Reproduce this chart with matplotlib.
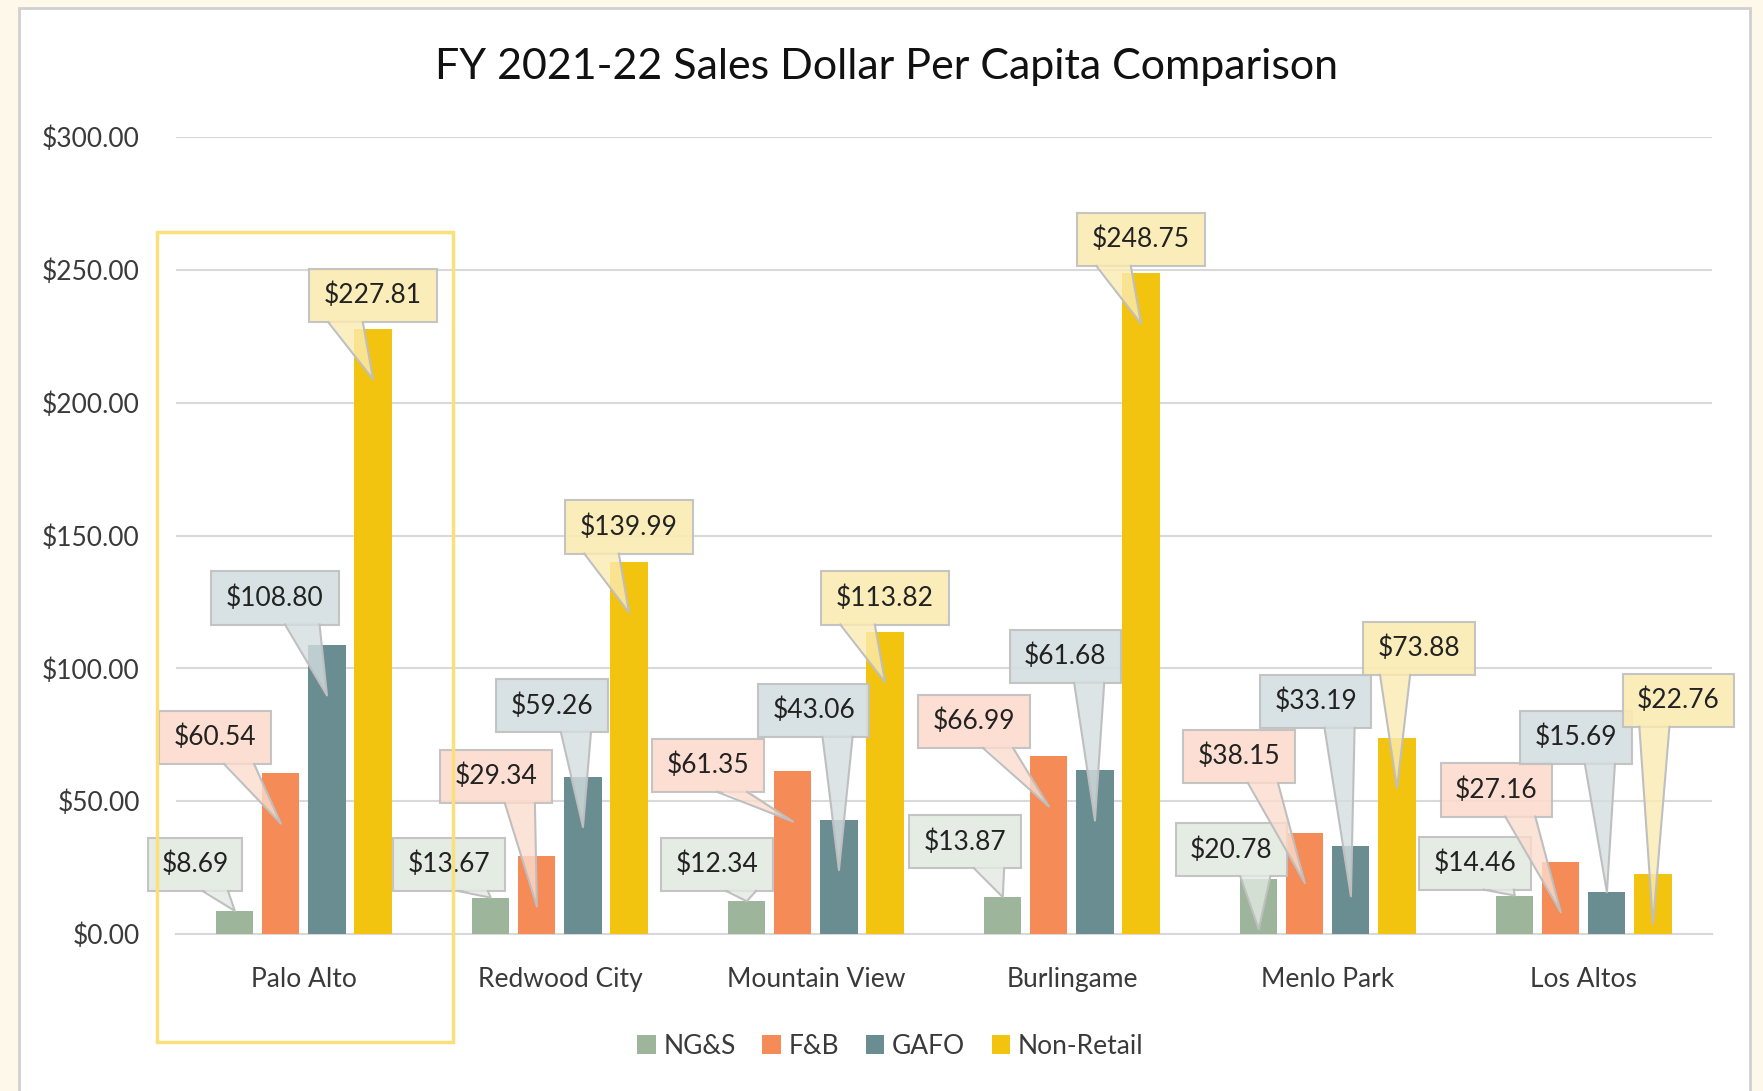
import numpy as np
import matplotlib.pyplot as plt
from matplotlib.patches import Rectangle, Polygon

plt.rcParams['font.family'] = ['Lato', 'DejaVu Sans']

cities = ['Palo Alto', 'Redwood City', 'Mountain View', 'Burlingame', 'Menlo Park', 'Los Altos']
series = ['NG&S', 'F&B', 'GAFO', 'Non-Retail']

ngs = [8.69, 13.67, 12.34, 13.87, 20.78, 14.46]
fb = [60.54, 29.34, 61.35, 66.99, 38.15, 27.16]
gafo = [108.80, 59.26, 43.06, 61.68, 33.19, 15.69]
non_retail = [227.81, 139.99, 113.82, 248.75, 73.88, 22.76]
values = [ngs, fb, gafo, non_retail]

yticks = [0, 50, 100, 150, 200, 250, 300]

bar_colors = ['#9DB59B', '#F58B57', '#6A8D92', '#F2C40F']
box_colors = ['#E3EAE2', '#FCDCCD', '#D4DEE0', '#FBEBB2']

# callout placement: x offset from bar (category units), box centre height (data units)
label_dx = [[-0.156, -0.164, -0.116, -0.147, -0.107, -0.156],
            [-0.257, -0.160, -0.331, -0.292, -0.257, -0.252],
            [-0.204, -0.121, -0.099, -0.116, -0.138, -0.121],
            [0.0, 0.0, 0.0, 0.0, 0.086, 0.099]]
label_y = [[26.2, 26.2, 26.2, 34.7, 31.7, 26.7],
           [74.0, 59.2, 63.5, 80.0, 66.8, 54.2],
           [126.5, 85.9, 84.2, 104.5, 87.6, 74.0],
           [240.3, 153.2, 126.5, 261.5, 107.5, 88.0]]

fig = plt.figure(figsize=(17.63, 10.91), dpi=100)
fig.patch.set_facecolor('#FDF8EA')
panel = Rectangle((0.0108, -0.01), 0.982, 1.003, transform=fig.transFigure,
                  facecolor='white', edgecolor='#D0D0D0', lw=2, zorder=-5)
fig.patches.append(panel)

ax = fig.add_axes([0.0998, 0.1439, 0.8712, 0.7305])
ax.patch.set_alpha(0)

x = np.arange(len(cities))
offsets = [-0.27, -0.09, 0.09, 0.27]
bw = 0.145
for k in range(4):
    ax.bar(x + offsets[k], values[k], bw, color=bar_colors[k], label=series[k], zorder=3)

ax.set_ylim(0, 300)
ax.set_xlim(-0.5, 5.5)
ax.set_yticks(yticks)
ax.set_yticklabels(['$%.2f' % v for v in yticks])
ax.set_xticks(x)
ax.set_xticklabels(cities)
ax.tick_params(axis='y', length=0, pad=26, labelsize=19, labelcolor='#3A3A3A')
ax.tick_params(axis='x', length=0, pad=24, labelsize=19, labelcolor='#3A3A3A')
ax.grid(axis='y', color='#D9D9D9', lw=1.5, zorder=0)
ax.set_axisbelow(True)
for s in ['top', 'right', 'left']:
    ax.spines[s].set_visible(False)
ax.spines['bottom'].set_color('#D9D9D9')
ax.spines['bottom'].set_linewidth(1.5)

# callouts
h = 20
for k in range(4):
    for i in range(len(cities)):
        v = values[k][i]
        txt = '$%.2f' % v
        tx = x[i] + offsets[k]
        ty = v if v < 19 else v - 19
        bx = tx + label_dx[k][i]
        by = label_y[k][i]
        w = 0.045 + 0.065 * len(txt)
        x0 = bx - w / 2
        ybot = by - h / 2
        if tx - bx > 0.05:
            f1, f2 = 0.58, 0.85
        else:
            f1, f2 = 0.15, 0.42
        p1 = (x0 + f1 * w, ybot + 0.8)
        p2 = (x0 + f2 * w, ybot + 0.8)
        ax.add_patch(Rectangle((x0, ybot), w, h, facecolor=box_colors[k], edgecolor='#BFBFBF',
                               lw=1.5, alpha=0.9, zorder=5, clip_on=False))
        ax.add_patch(Polygon([p1, (tx, ty), p2], closed=True, facecolor=box_colors[k],
                             edgecolor='none', alpha=0.8, zorder=6, clip_on=False))
        ax.plot([p1[0], tx, p2[0]], [ybot, ty, ybot], color='#BFBFBF', lw=1.5, zorder=6,
                clip_on=False)
        ax.text(bx, by, txt, ha='center', va='center', fontsize=19, color='#222222', zorder=7)

fig.text(0.5026, 0.9386, 'FY 2021-22 Sales Dollar Per Capita Comparison', ha='center', va='center',
         fontsize=31, color='#111111')

leg = ax.legend(loc='center', bbox_to_anchor=(0.505, 0.041), bbox_transform=fig.transFigure,
                ncol=4, frameon=False, fontsize=19, handlelength=0.7, handleheight=0.7,
                handletextpad=0.3, columnspacing=1.0, labelcolor='#3A3A3A')

# highlight box around Palo Alto
fig.patches.append(Rectangle((0.0893, 0.0446), 0.1677, 0.7431, transform=fig.transFigure,
                             facecolor='none', edgecolor='#F9E07A', lw=2.5, zorder=10))

plt.savefig('out.png', dpi=100, facecolor=fig.get_facecolor())
